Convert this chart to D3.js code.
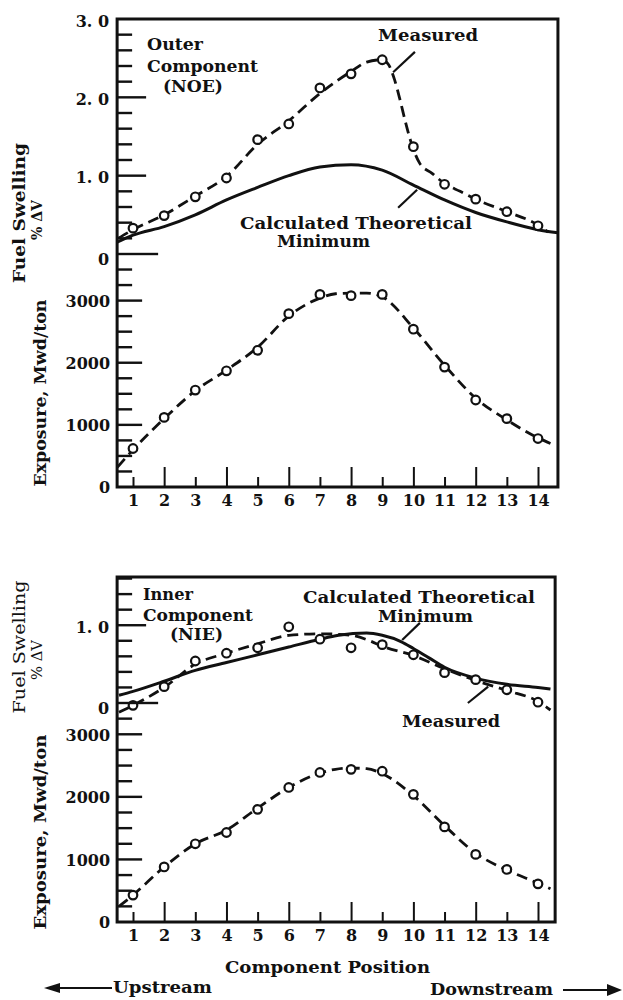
<!DOCTYPE html>
<html>
<head>
<meta charset="utf-8">
<script src="https://cdnjs.cloudflare.com/ajax/libs/d3/7.8.5/d3.min.js"></script>
<style>
  body { margin: 0; background: #fff; }
  text { font-family: "DejaVu Serif", serif; font-weight: bold; fill: #111; }
</style>
</head>
<body>
<div id="chart"></div>
<script>
// component positions along the channel
const positions = [1, 2, 3, 4, 5, 6, 7, 8, 9, 10, 11, 12, 13, 14];

// outer component (NOE) - measured points
const outerSwelling = [0.33, 0.49, 0.73, 0.97, 1.46, 1.66, 2.12, 2.30, 2.48, 1.37, 0.89, 0.70, 0.54, 0.36];
const outerExposure = [620, 1120, 1560, 1870, 2200, 2790, 3100, 3080, 3100, 2540, 1930, 1400, 1100, 780];

// inner component (NIE) - measured points
const innerSwelling = [-0.03, 0.21, 0.54, 0.64, 0.71, 0.98, 0.82, 0.71, 0.75, 0.62, 0.39, 0.30, 0.17, 0.01];
const innerExposure = [430, 880, 1250, 1430, 1800, 2150, 2390, 2440, 2410, 2040, 1520, 1080, 840, 610];

// curves as drawn on the figure
const outerSwFitX = [0.53, 1, 2, 3, 4, 5, 6, 7, 8, 8.5, 9, 9.2, 9.4, 9.57, 9.73, 9.9, 10.2, 10.6, 11, 11.5, 12, 13, 14, 14.32];
const outerSwFitY = [0.20, 0.31, 0.50, 0.74, 0.99, 1.40, 1.70, 2.05, 2.33, 2.45, 2.48, 2.42, 2.22, 1.97, 1.71, 1.46, 1.16, 1.03, 0.90, 0.80, 0.70, 0.54, 0.37, 0.28];
const outerCalcX = [0.49, 1, 2, 3, 4, 5, 6, 7, 8, 9, 10, 11, 12, 13, 14, 14.64];
const outerCalcY = [0.15, 0.24, 0.35, 0.50, 0.69, 0.85, 1.00, 1.11, 1.14, 1.07, 0.88, 0.69, 0.53, 0.41, 0.31, 0.27];
const outerExFitX = [0.5, 1, 2, 3, 4, 5, 6, 7, 7.5, 8, 8.5, 9, 10, 11, 12, 13, 14, 14.4];
const outerExFitY = [319, 600, 1100, 1550, 1880, 2250, 2750, 3040, 3110, 3120, 3120, 3060, 2560, 1960, 1430, 1080, 790, 700];

const innerSwFitX = [0.55, 1, 2, 3, 4, 5, 6, 7, 8, 8.6, 9, 10, 11, 12, 13, 14, 14.4];
const innerSwFitY = [-0.12, -0.03, 0.20, 0.50, 0.64, 0.76, 0.87, 0.89, 0.87, 0.80, 0.73, 0.61, 0.44, 0.29, 0.16, 0.02, -0.09];
const innerCalcX = [0.55, 1, 2, 3, 4, 5, 6, 7, 7.6, 8.5, 9, 9.6, 10, 10.5, 11, 12, 13, 14, 14.4];
const innerCalcY = [0.10, 0.15, 0.28, 0.42, 0.52, 0.62, 0.72, 0.82, 0.87, 0.90, 0.87, 0.79, 0.70, 0.58, 0.46, 0.32, 0.24, 0.20, 0.18];
const innerExFitX = [0.55, 1, 2, 3, 4, 5, 6, 7, 7.5, 8, 8.5, 9, 10, 11, 12, 13, 14, 14.4];
const innerExFitY = [250, 430, 880, 1250, 1470, 1820, 2150, 2380, 2440, 2460, 2450, 2370, 2020, 1540, 1100, 830, 620, 530];

// tick labels
const swTickLabels = { 0: "0", 1: "1. 0", 2: "2. 0", 3: "3. 0" };
const exTickLabels = { 0: "0", 1000: "1000", 2000: "2000", 3000: "3000" };

const width = 623, height = 1000;

const svg = d3.select('#chart')
  .append('svg')
  .attr('width', width)
  .attr('height', height);

svg.append('rect').attr('width', width).attr('height', height).attr('fill', '#fff');

// x scale shared by both panels (position 1 -> 133px, 14 -> 538px)
const x = d3.scaleLinear().domain([1, 14]).range([133, 538]);
const left = x(0.49);

const panels = [
  {
    top: 19, bottom: 487, xMax: 14.64, swMax: 3.0, swZeroY: 254, exMax: 3750,
    swTicks: [1, 2], swLabels: [1, 2, 3], exMinorTop: 3500,
    swelling: outerSwelling, exposure: outerExposure,
    swFit: [outerSwFitX, outerSwFitY], calc: [outerCalcX, outerCalcY], exFit: [outerExFitX, outerExFitY]
  },
  {
    top: 577, bottom: 922, xMax: 14.55, swMax: 1.62, swZeroY: 703, exMax: 3500,
    swTicks: [1], swLabels: [1], exMinorTop: 3250,
    swelling: innerSwelling, exposure: innerExposure,
    swFit: [innerSwFitX, innerSwFitY], calc: [innerCalcX, innerCalcY], exFit: [innerExFitX, innerExFitY]
  }
];

const zip = (a, b) => a.map((v, i) => [v, b[i]]);

panels.forEach(p => {
  const g = svg.append('g');
  const right = x(p.xMax);
  const ySw = d3.scaleLinear().domain([0, p.swMax]).range([p.swZeroY, p.top]);
  const yEx = d3.scaleLinear().domain([0, p.exMax]).range([p.bottom, p.swZeroY]);
  p.ySw = ySw; p.yEx = yEx;

  // y tick labels
  g.append('g')
    .attr('transform', `translate(${left},0)`)
    .call(d3.axisLeft(ySw).tickValues(p.swLabels).tickSize(0).tickPadding(8).tickFormat(d => swTickLabels[d]))
    .call(a => a.select('.domain').remove())
    .call(a => a.selectAll('text').attr('dy', '0.45em').style('font-size', '16px').style('font-family', '"DejaVu Serif", serif'));
  g.append('g')
    .attr('transform', `translate(${left},0)`)
    .call(d3.axisLeft(yEx).tickValues([0, 1000, 2000, 3000]).tickSize(0).tickPadding(7).tickFormat(d => exTickLabels[d]))
    .call(a => a.select('.domain').remove())
    .call(a => a.selectAll('text').attr('dy', '0.36em').style('font-size', '16px').style('font-family', '"DejaVu Serif", serif'));
  // swelling zero label sits just under its long tick
  g.append('text')
    .attr('x', left - 8).attr('y', ySw(0) + 11)
    .attr('text-anchor', 'end').style('font-size', '16px').text(swTickLabels[0]);

  // x axis: long ticks on even positions, short on odd
  [[positions.filter(d => d % 2 === 0), -20], [positions.filter(d => d % 2 === 1), -10]].forEach(([vals, size]) => {
    g.append('g')
      .attr('transform', `translate(0,${p.bottom})`)
      .call(d3.axisBottom(x).tickValues(vals).tickSizeInner(size).tickSizeOuter(0).tickPadding(8).tickFormat(d3.format('d')))
      .call(a => a.select('.domain').remove())
      .call(a => a.selectAll('line').attr('stroke', '#111').attr('stroke-width', 2))
      .call(a => a.selectAll('text').style('font-size', '16px').style('font-family', '"DejaVu Serif", serif'));
  });

  // frame
  g.append('rect')
    .attr('x', left).attr('y', p.top)
    .attr('width', right - left).attr('height', p.bottom - p.top)
    .attr('fill', 'none').attr('stroke', '#111').attr('stroke-width', 3);

  // curves
  const line = (ys) => d3.line().x(d => x(d[0])).y(d => ys(d[1])).curve(d3.curveMonotoneX);

  g.append('path')
    .attr('d', line(ySw)(zip(p.calc[0], p.calc[1])))
    .attr('fill', 'none').attr('stroke', '#111').attr('stroke-width', 3);
  g.append('path')
    .attr('d', line(ySw)(zip(p.swFit[0], p.swFit[1])))
    .attr('fill', 'none').attr('stroke', '#111').attr('stroke-width', 2.8)
    .attr('stroke-dasharray', '11,6');
  g.append('path')
    .attr('d', line(yEx)(zip(p.exFit[0], p.exFit[1])))
    .attr('fill', 'none').attr('stroke', '#111').attr('stroke-width', 2.8)
    .attr('stroke-dasharray', '11,6');

  // measured points
  g.selectAll('.sw')
    .data(zip(positions, p.swelling))
    .enter().append('circle')
    .attr('class', 'sw')
    .attr('cx', d => x(d[0])).attr('cy', d => ySw(d[1])).attr('r', 4.3)
    .attr('fill', '#fff').attr('stroke', '#111').attr('stroke-width', 2.2);
  g.selectAll('.ex')
    .data(zip(positions, p.exposure))
    .enter().append('circle')
    .attr('class', 'ex')
    .attr('cx', d => x(d[0])).attr('cy', d => yEx(d[1])).attr('r', 4.3)
    .attr('fill', '#fff').attr('stroke', '#111').attr('stroke-width', 2.2);
});

// inward ticks on the left axes, as thin filled bars, drawn last
const leftTicks = [];
panels.forEach(p => {
  d3.range(1, Math.floor(p.swMax / 0.2 + 1e-6) + 1).map(i => i * 0.2)
    .filter(v => Math.abs(v - Math.round(v)) > 0.05)
    .forEach(v => leftTicks.push({ y: p.ySw(v), len: 15 }));
  p.swTicks.forEach(v => leftTicks.push({ y: p.ySw(v), len: 29 }));
  leftTicks.push({ y: p.ySw(0), len: 41 });
  d3.range(1, p.exMinorTop / 250 + 1).map(i => i * 250)
    .filter(v => v % 1000 !== 0)
    .forEach(v => leftTicks.push({ y: p.yEx(v), len: 15 }));
  [1000, 2000, 3000].forEach(v => leftTicks.push({ y: p.yEx(v), len: 25 }));
});
svg.append('g')
  .attr('class', 'left-ticks')
  .selectAll('rect')
  .data(leftTicks)
  .enter().append('rect')
  .attr('x', left - 1)
  .attr('y', d => d.y - 1.2)
  .attr('width', d => d.len + 1)
  .attr('height', 2.4)
  .attr('fill', '#111');

// in-plot labels
function label(txt, xPos, yPos, len, size) {
  const t = svg.append('text')
    .attr('x', xPos).attr('y', yPos)
    .style('font-size', (size || 17) + 'px')
    .text(txt);
  if (len) t.attr('textLength', len).attr('lengthAdjust', 'spacingAndGlyphs');
  return t;
}

label('Outer', 147, 50, 56);
label('Component', 147, 72, 111);
label('(NOE)', 163, 92, 60);
label('Measured', 378, 41, 100);
label('Calculated Theoretical', 240, 229, 232);
label('Minimum', 277, 247, 93);

label('Inner', 143, 600, 50);
label('Component', 143, 621, 110);
label('(NIE)', 170, 640, 53);
label('Calculated Theoretical', 303, 603, 232);
label('Minimum', 378, 622, 95);
label('Measured', 402, 727, 98);

// leader lines (in data units)
const pTop = panels[0], pBot = panels[1];
const leaders = [
  [pTop.ySw, 10.05, 2.58, 9.35, 2.32],
  [pTop.ySw, 9.51, 0.59, 10.12, 0.82],
  [pBot.ySw, 9.64, 0.81, 10.21, 1.03],
  [pBot.ySw, 11.75, 0.0, 12.4, 0.21]
];
leaders.forEach(([ys, x1, y1, x2, y2]) => {
  svg.append('line')
    .attr('x1', x(x1)).attr('y1', ys(y1))
    .attr('x2', x(x2)).attr('y2', ys(y2))
    .attr('stroke', '#111').attr('stroke-width', 2.2);
});

// axis titles
function vlabel(txt, cx, cy, len, size, weight) {
  svg.append('text')
    .attr('transform', `translate(${cx},${cy}) rotate(-90)`)
    .attr('text-anchor', 'middle')
    .attr('dy', '0.35em')
    .attr('textLength', len).attr('lengthAdjust', 'spacingAndGlyphs')
    .style('font-size', size + 'px')
    .style('font-weight', weight || 'bold')
    .text(txt);
}
vlabel('Fuel Swelling', 19, 213, 140, 17);
vlabel('% ΔV', 37, 220, 40, 14);
vlabel('Exposure, Mwd/ton', 40, 393, 187, 17);
vlabel('Fuel Swelling', 19, 647, 133, 17, 'normal');
vlabel('% ΔV', 37, 660, 40, 14, 'normal');
vlabel('Exposure, Mwd/ton', 40, 832, 195, 17);

label('Component Position', 225, 973, 205);
label('Upstream', 113, 993, 99);
label('Downstream', 430, 995, 123);

// direction arrows
svg.append('line').attr('x1', 56).attr('y1', 988).attr('x2', 112).attr('y2', 988)
  .attr('stroke', '#111').attr('stroke-width', 2.2);
svg.append('path').attr('d', 'M44,988 L60,983 L60,993 Z').attr('fill', '#111');
svg.append('line').attr('x1', 563).attr('y1', 990).attr('x2', 610).attr('y2', 990)
  .attr('stroke', '#111').attr('stroke-width', 2.2);
svg.append('path').attr('d', 'M622,990 L607,984 L607,996 Z').attr('fill', '#111');
</script>
</body>
</html>
